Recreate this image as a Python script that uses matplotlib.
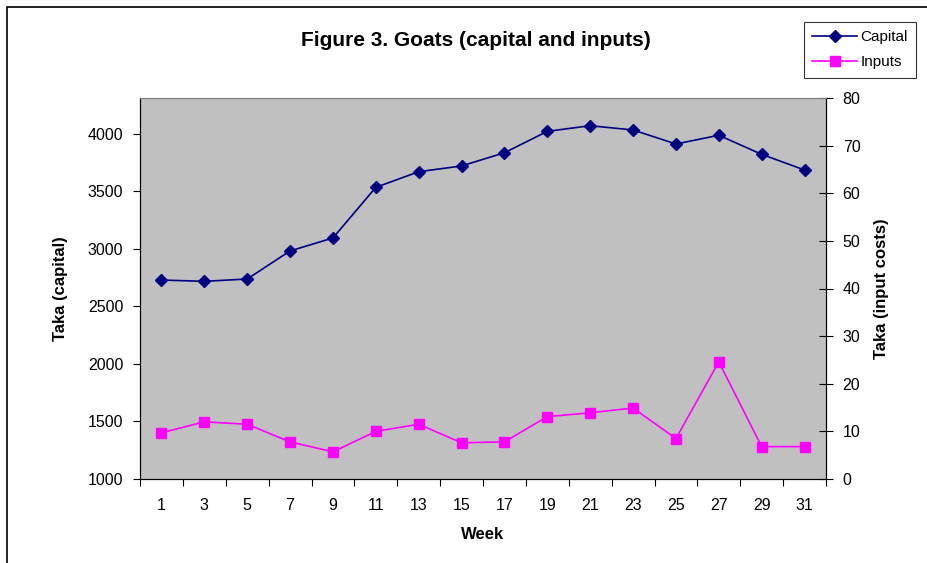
import matplotlib
matplotlib.use("Agg")
import matplotlib.pyplot as plt
import numpy as np
from matplotlib.patches import Rectangle
from matplotlib.ticker import FixedLocator

plt.rcParams['font.family'] = ['Liberation Sans', 'DejaVu Sans']

weeks = [1, 3, 5, 7, 9, 11, 13, 15, 17, 19, 21, 23, 25, 27, 29, 31]
capital = [2730, 2719, 2739, 2983, 3096, 3536, 3672, 3722, 3837, 4023,
           4072, 4035, 3913, 3989, 3823, 3687]
inputs = [9.7, 12.0, 11.5, 7.8, 5.7, 10.0, 11.5, 7.6, 7.8, 13.1,
          13.9, 14.9, 8.5, 24.6, 6.8, 6.8]

fig = plt.figure(figsize=(9.27, 5.63), dpi=100)
fig.patch.set_facecolor('white')
ax = fig.add_axes([140/927, 1-479/563, (826-140)/927, (479-98)/563])
ax.set_facecolor('#C0C0C0')
ax2 = ax.twinx()

pos = np.arange(len(weeks))
l1, = ax.plot(pos, capital, color='#000080', marker='D', markersize=6,
              linewidth=1.2, label='Capital')
l2, = ax2.plot(pos, inputs, color='#FF00FF', marker='s', markersize=6.5,
               linewidth=1.2, label='Inputs')

ax.set_xlim(-0.5, len(weeks)-0.5)
ax.set_ylim(1000, 4313)
ax.set_yticks(np.arange(1000, 4001, 500))
ax2.set_ylim(0, 80)
ax2.set_yticks(np.arange(0, 81, 10))

# category ticks between points, labels under points
ax.xaxis.set_major_locator(FixedLocator(np.arange(-0.5, len(weeks)+0.5, 1)))
ax.xaxis.set_minor_locator(FixedLocator(pos))
ax.set_xticklabels([])
ax.set_xticklabels([str(w) for w in weeks], minor=True)
ax.tick_params(axis='x', which='major', direction='out', length=5, width=0.8)
ax.tick_params(axis='x', which='minor', length=0, pad=14, labelsize=11.5)
ax.tick_params(axis='y', direction='out', length=5, width=0.8, pad=7, labelsize=11.5)
ax2.tick_params(axis='y', direction='inout', length=10, width=0.8, pad=7, labelsize=11.5)

for s in ['left', 'bottom']:
    ax.spines[s].set_color('black')
ax.spines['top'].set_color('#808080')
ax2.spines['top'].set_color('#808080')
ax2.spines['right'].set_color('black')
ax2.spines['left'].set_color('black')
ax2.spines['bottom'].set_color('black')

ax.set_xlabel('Week', fontsize=12, fontweight='bold', labelpad=10)
ax.set_ylabel('Taka (capital)', fontsize=12, fontweight='bold', labelpad=14)
ax2.set_ylabel('Taka (input costs)', fontsize=12, fontweight='bold', labelpad=10)

fig.text(476/927, 1-40/563, 'Figure 3. Goats (capital and inputs)',
         fontsize=15, fontweight='bold', ha='center', va='center')

leg = fig.legend(handles=[l1, l2], loc='upper left',
                 bbox_to_anchor=(804/927, 1-22/563), fontsize=11,
                 frameon=True, fancybox=False, edgecolor='black',
                 handlelength=2.9, handletextpad=0.25, borderpad=0.55,
                 labelspacing=0.7, borderaxespad=0)
leg.get_frame().set_linewidth(0.8)

# chart area border
fig.patches.append(Rectangle((7/927, -0.1), 1.2, 1.1 - 7/563,
                             transform=fig.transFigure, fill=False,
                             edgecolor='black', linewidth=1.2))

fig.savefig('out.png', dpi=100)
